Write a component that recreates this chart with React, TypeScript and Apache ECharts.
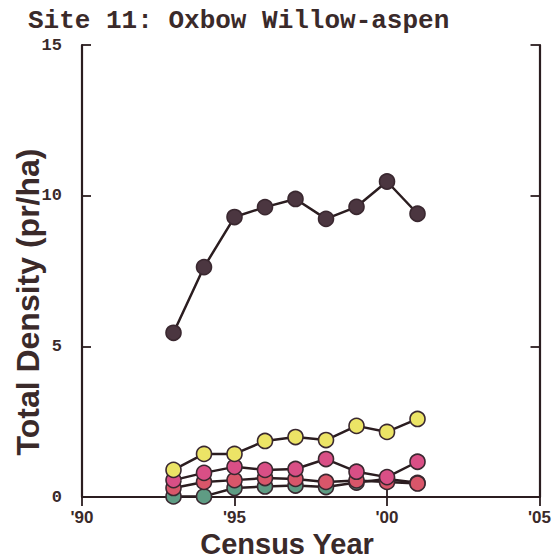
import React, { useEffect, useRef } from "react";
import * as echarts from "echarts";

const years = [1993, 1994, 1995, 1996, 1997, 1998, 1999, 2000, 2001];
const darkSeries = [5.45, 7.63, 9.29, 9.62, 9.89, 9.23, 9.63, 10.47, 9.4];
const yellowSeries = [0.9, 1.43, 1.43, 1.86, 1.99, 1.89, 2.36, 2.16, 2.59];
const pinkSeries = [0.56, 0.8, 1.0, 0.9, 0.93, 1.26, 0.84, 0.66, 1.17];
const redSeries = [0.3, 0.5, 0.56, 0.63, 0.6, 0.5, 0.55, 0.5, 0.45];
const tealSeries = [0.02, 0.02, 0.3, 0.35, 0.38, 0.33, 0.48, 0.6, 0.47];
const xTicks = [1990, 1995, 2000, 2005];
const yTicks = [0, 5, 10, 15];

const LINE = "#2b1d20";
const TEXT = "#3a2a2a";

function mk(name: string, vals: number[], fill: string) {
  return {
    name,
    type: "line",
    data: years.map((y, i) => [y, vals[i]]),
    symbol: "circle",
    symbolSize: 15,
    lineStyle: { color: LINE, width: 2.5 },
    itemStyle: { color: fill, borderColor: "#3a2830", borderWidth: 1.6 },
    emphasis: { disabled: true },
  };
}

export default function App() {
  const ref = useRef<HTMLDivElement>(null);
  useEffect(() => {
    const chart = echarts.init(ref.current!, undefined, { renderer: "svg" });
    const axisLine = { show: true, lineStyle: { color: LINE, width: 2.2 } };
    const axisTick = { show: true, inside: true, length: 9, lineStyle: { color: LINE, width: 1.8 } };
    chart.setOption({
      animation: false,
      backgroundColor: "#ffffff",
      title: {
        text: "Site 11: Oxbow Willow-aspen",
        left: 23,
        top: 3,
        textStyle: {
          fontFamily: "Liberation Mono",
          fontWeight: "bold",
          fontSize: 26,
          color: TEXT,
        },
      },
      graphic: [
        {
          type: "text",
          x: 287,
          y: 544,
          style: {
            text: "Census Year",
            fontFamily: "Liberation Sans",
            fontWeight: "bold",
            fontSize: 29,
            fill: TEXT,
            align: "center",
            verticalAlign: "middle",
          },
        },
        {
          type: "text",
          x: 28,
          y: 302,
          rotation: Math.PI / 2,
          style: {
            text: "Total Density (pr/ha)",
            fontFamily: "Liberation Sans",
            fontWeight: "bold",
            fontSize: 32,
            fill: TEXT,
            align: "center",
            verticalAlign: "middle",
          },
        },
      ],
      grid: { left: 82, right: 13, top: 45, bottom: 63 },
      xAxis: [
        {
          type: "value",
          min: 1990,
          max: 2005,
          interval: 5,
          axisLine,
          axisTick,
          splitLine: { show: false },
          axisLabel: {
            margin: 12,
            fontFamily: "Liberation Sans",
            fontWeight: "bold",
            fontSize: 17,
            color: TEXT,
            formatter: (v: number) =>
              xTicks.includes(v) ? "'" + String(v % 100).padStart(2, "0") : "",
          },
        },
        {
          type: "value",
          position: "top",
          min: 1990,
          max: 2005,
          interval: 5,
          axisLine,
          axisTick,
          axisLabel: { show: false },
          splitLine: { show: false },
        },
      ],
      yAxis: [
        {
          type: "value",
          min: 0,
          max: 15,
          interval: 5,
          axisLine,
          axisTick,
          splitLine: { show: false },
          axisLabel: {
            margin: 20,
            fontFamily: "Liberation Mono",
            fontWeight: "bold",
            fontSize: 17,
            color: TEXT,
            formatter: (v: number) => (yTicks.includes(v) ? String(v) : ""),
          },
        },
        {
          type: "value",
          position: "right",
          min: 0,
          max: 15,
          interval: 5,
          axisLine,
          axisTick,
          axisLabel: { show: false },
          splitLine: { show: false },
        },
      ],
      series: [
        mk("teal", tealSeries, "#5f9c84"),
        mk("red", redSeries, "#d9566a"),
        mk("pink", pinkSeries, "#d94f86"),
        mk("yellow", yellowSeries, "#ece466"),
        mk("dark", darkSeries, "#4b3640"),
      ],
    });
    return () => chart.dispose();
  }, []);
  return (
    <div
      ref={ref}
      style={{ position: "absolute", left: 0, top: 0, width: 554, height: 560 }}
    />
  );
}
